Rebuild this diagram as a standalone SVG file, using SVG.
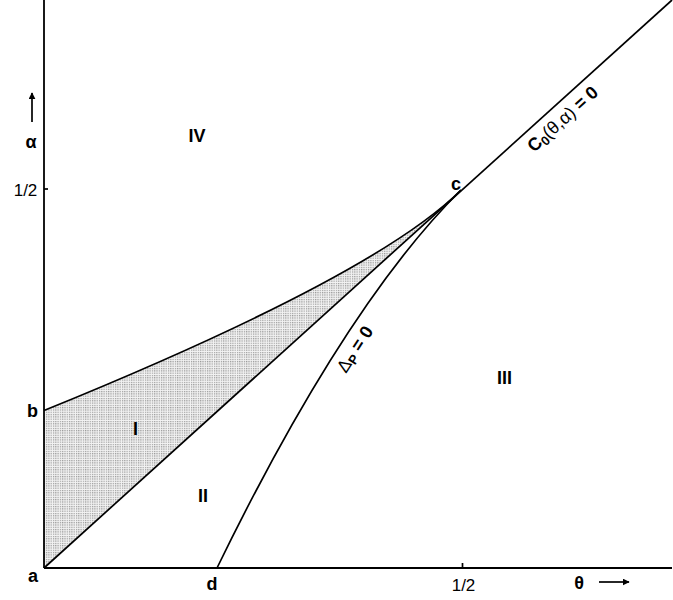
<svg xmlns="http://www.w3.org/2000/svg" width="673" height="600" viewBox="0 0 673 600">
<defs>
<pattern id="dots" width="2.3" height="2.3" patternUnits="userSpaceOnUse">
<rect width="2.3" height="2.3" fill="#f2f2f2"/>
<rect width="1.2" height="1.2" fill="#9a9a9a"/>
</pattern>
<marker id="arr" viewBox="0 0 10 10" refX="9" refY="5" markerWidth="7" markerHeight="7" markerUnits="userSpaceOnUse" orient="auto">
<path d="M0,0 L10,5 L0,10 z" fill="#000"/>
</marker>
<style>
.ln{fill:none;stroke:#000;stroke-width:1.7}
.ax{fill:none;stroke:#000;stroke-width:1.8}
.lb{font-family:"Liberation Sans",Arial,sans-serif;font-weight:bold;font-size:18px;fill:#000}
.nm{font-family:"Liberation Sans",Arial,sans-serif;font-size:17px;fill:#000}
</style>
</defs>
<g id="region-I-fill">
<path d="M44,410.5 Q375,276 461,190 L44,568 Z" fill="url(#dots)"/>
</g>
<g id="connectors">
<line class="ax" x1="44" y1="0" x2="44" y2="568"/>
<line class="ax" x1="44" y1="568" x2="672" y2="568"/>
<line class="ln" x1="44" y1="189" x2="48" y2="189"/>
<line class="ln" x1="462.5" y1="563" x2="462.5" y2="568"/>
<line class="ln" x1="44" y1="568" x2="672" y2="0"/>
<path class="ln" d="M44,410.5 Q375,276 461,190"/>
<path class="ln" d="M217,568 Q345,305 461,190"/>
<line class="ln" x1="32" y1="122" x2="32" y2="93" marker-end="url(#arr)" stroke-width="1.3"/>
<line class="ln" x1="599" y1="582" x2="629" y2="582" marker-end="url(#arr)" stroke-width="1.3"/>
</g>
<g id="axis-labels">
<text class="lb" x="31" y="148" text-anchor="middle">α</text>
<text class="nm" x="25.5" y="196" text-anchor="middle">1/2</text>
<text class="nm" x="463.5" y="591" text-anchor="middle">1/2</text>
<text class="lb" x="579" y="589" text-anchor="middle">θ</text>
</g>
<g id="node-a"><text class="lb" x="33" y="582" text-anchor="middle">a</text></g>
<g id="node-b"><text class="lb" x="32.5" y="417" text-anchor="middle">b</text></g>
<g id="node-c"><text class="lb" x="456" y="190" text-anchor="middle">c</text></g>
<g id="node-d"><text class="lb" x="212" y="590" text-anchor="middle">d</text></g>
<g id="region-I"><text class="lb" x="135.5" y="435" text-anchor="middle">I</text></g>
<g id="region-II"><text class="lb" x="203" y="502" text-anchor="middle">II</text></g>
<g id="region-III"><text class="lb" x="504.5" y="384" text-anchor="middle">III</text></g>
<g id="region-IV"><text class="lb" x="197" y="142" text-anchor="middle">IV</text></g>
<g id="label-C0">
<text class="lb" transform="translate(534,153) rotate(-42)">C<tspan font-size="13" dy="3">0</tspan><tspan dy="-3" font-weight="normal">(θ,α)</tspan> = 0</text>
</g>
<g id="label-DeltaP">
<text class="lb" font-size="19" transform="translate(346,374) rotate(-57)"><tspan font-weight="normal">Δ</tspan><tspan font-size="13" dy="3">P</tspan><tspan dy="-3"> = 0</tspan></text>
</g>
</svg>
